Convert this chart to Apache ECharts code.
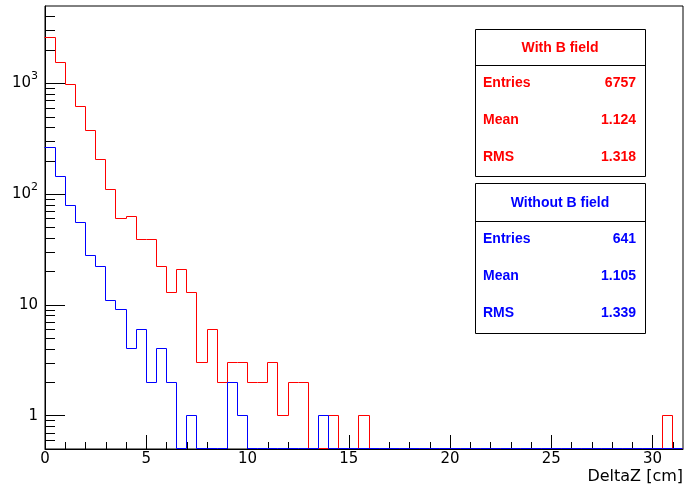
<!DOCTYPE html>
<html lang="en">
<head>
    <meta charset="UTF-8">
    <title>DeltaZ</title>
    <script src="https://cdn.jsdelivr.net/npm/echarts@6/dist/echarts.min.js"></script>
    <style>
        html, body {margin: 0; padding: 0; background: #fff;}
        #main {width: 684px; height: 490px;}
    </style>
</head>
<body>
<div id="main"></div>
<script>
    // histogram: 63 bins of 0.5 cm from 0 to 31.5
    const binWidth = 0.5;
    const xMax = 31.5;
    const redCounts = [
        2600, 1530, 984, 622, 372, 205, 111, 60, 63, 39,
        39, 22, 13, 21, 13, 3, 6, 2, 3, 3,
        2, 2, 3, 1, 2, 2, 0, 0, 1, 0,
        0, 1, 0, 0, 0, 0, 0, 0, 0, 0,
        0, 0, 0, 0, 0, 0, 0, 0, 0, 0,
        0, 0, 0, 0, 0, 0, 0, 0, 0, 0,
        0, 1, 0
    ];
    const blueCounts = [
        264, 143, 79, 55, 28, 22, 11, 9, 4, 6,
        2, 4, 2, 0, 1, 0, 0, 0, 2, 1,
        0, 0, 0, 0, 0, 0, 0, 1, 0, 0,
        0, 0, 0, 0, 0, 0, 0, 0, 0, 0,
        0, 0, 0, 0, 0, 0, 0, 0, 0, 0,
        0, 0, 0, 0, 0, 0, 0, 0, 0, 0,
        0, 0, 0
    ];

    // axis ticks
    const xMajorTicks = [0, 5, 10, 15, 20, 25, 30];
    const xMinorTicks = [0, 1, 2, 3, 4, 5, 6, 7, 8, 9, 10, 11, 12, 13, 14, 15, 16, 17, 18, 19, 20,
        21, 22, 23, 24, 25, 26, 27, 28, 29, 30, 31];
    const yMajorTicks = [1, 10, 100, 1000];
    const yMinorTicks = [0.6, 0.7, 0.8, 0.9, 2, 3, 4, 5, 6, 7, 8, 9, 20, 30, 40, 50, 60, 70, 80, 90,
        200, 300, 400, 500, 600, 700, 800, 900, 2000, 3000, 4000];

    // stat boxes
    const statTitles = ['With B field', 'Without B field'];
    const statColors = ['#ff0000', '#0000ff'];
    const statRowNames = ['Entries', 'Mean', 'RMS'];
    const statEntries = ['6757', '641'];
    const statMeans = ['1.124', '1.105'];
    const statRms = ['1.318', '1.339'];

    const chart = echarts.init(document.getElementById('main'));

    // snap to pixel centres so the 1px outline stays sharp
    function crisp(v) {
        return Math.ceil(v - 0.01) - 0.5;
    }

    function histSeries(name, counts, color, z) {
        return {
            name: name,
            type: 'custom',
            z: z,
            silent: true,
            clip: false,
            xAxisIndex: 0,
            yAxisIndex: 0,
            encode: {x: 0, y: 1},
            data: counts.map(function (c, i) {
                return [i * binWidth, c];
            }),
            renderItem: function (params, api) {
                let i      = params.dataIndex;
                let bottom = params.coordSys.y + params.coordSys.height;
                let py     = function (v) {
                    return crisp(v > 0 ? api.coord([0, v])[1] : bottom);
                };
                let x0     = crisp(api.coord([api.value(0), 1])[0]);
                let x1     = crisp(api.coord([api.value(0) + binWidth, 1])[0]);
                let prev   = i > 0 ? counts[i - 1] : counts[0];
                let y      = py(api.value(1));
                return {
                    type : 'polyline',
                    shape: {points: [[x0, py(prev)], [x0, y], [x1, y]]},
                    style: {stroke: color, fill: null, lineWidth: 1}
                };
            }
        };
    }

    let graphics = [];
    const boxTop = [29, 183];
    const boxHeight = [147, 150];
    const sepOffset = [36, 38];
    const boxLeft = 475, boxWidth = 170;
    const statFont = 'bold 14px "Liberation Sans", Arial, sans-serif';
    statTitles.forEach(function (title, b) {
        let top = boxTop[b];
        let sep = top + sepOffset[b];
        let values = [statEntries[b], statMeans[b], statRms[b]];
        graphics.push({
            type : 'rect', z: 100, silent: true,
            shape: {x: boxLeft + 0.5, y: top + 0.5, width: boxWidth, height: boxHeight[b]},
            style: {fill: '#fff', stroke: '#000', lineWidth: 1}
        });
        graphics.push({
            type : 'line', z: 101, silent: true,
            shape: {x1: boxLeft + 0.5, y1: sep + 0.5, x2: boxLeft + boxWidth + 0.5, y2: sep + 0.5},
            style: {stroke: '#000', lineWidth: 1}
        });
        graphics.push({
            type : 'text', z: 102, silent: true,
            x: boxLeft + boxWidth / 2, y: (top + sep) / 2 + 1,
            style: {text: title, fill: statColors[b], font: statFont, align: 'center', verticalAlign: 'middle'}
        });
        statRowNames.forEach(function (row, k) {
            let ry = sep + 18.5 + k * 36.7;
            graphics.push({
                type : 'text', z: 102, silent: true,
                x: boxLeft + 8, y: ry,
                style: {text: row, fill: statColors[b], font: statFont, align: 'left', verticalAlign: 'middle'}
            });
            graphics.push({
                type : 'text', z: 102, silent: true,
                x: boxLeft + boxWidth - 9, y: ry,
                style: {text: values[k], fill: statColors[b], font: statFont, align: 'right', verticalAlign: 'middle'}
            });
        });
    });

    const axisFont = 'DejaVu Sans';

    let option = {
        animation: false,
        backgroundColor: '#fff',
        grid: {
            left: 45, right: 1, top: 6, bottom: 41,
            show: true, borderColor: '#000', borderWidth: 1,
            containLabel: false, outerBoundsMode: 'none'
        },
        xAxis: [
            {
                type: 'value', min: 0, max: xMax, position: 'bottom',
                axisLine : {show: true, onZero: false, lineStyle: {color: '#000', width: 1}},
                axisTick : {show: true, inside: true, length: 14, customValues: xMajorTicks, lineStyle: {color: '#000'}},
                axisLabel: {customValues: xMajorTicks, color: '#000', fontFamily: axisFont, fontSize: 15, margin: 3},
                splitLine: {show: false},
                name: 'DeltaZ [cm]', nameLocation: 'end', nameGap: 0, nameMoveOverlap: false,
                nameTextStyle: {
                    color: '#000', fontFamily: axisFont, fontSize: 16,
                    align: 'right', verticalAlign: 'top', padding: [20, 0, 0, 0]
                }
            },
            {
                type: 'value', min: 0, max: xMax, position: 'bottom',
                axisLine : {show: false, onZero: false},
                axisTick : {show: true, inside: true, length: 7, customValues: xMinorTicks, lineStyle: {color: '#000'}},
                axisLabel: {show: false},
                splitLine: {show: false}
            }
        ],
        yAxis: [
            {
                type: 'log', logBase: 10, min: 0.5, max: 5000, position: 'left',
                axisLine : {show: true, onZero: false, lineStyle: {color: '#000', width: 1}},
                axisTick : {show: true, inside: true, length: 20, customValues: yMajorTicks, lineStyle: {color: '#000'}},
                axisLabel: {
                    customValues: yMajorTicks, color: '#000', fontFamily: axisFont, fontSize: 15, margin: 7,
                    formatter: function (value) {
                        let p = Math.round(Math.log10(value));
                        if (p < 2) {
                            return String(Math.round(value));
                        }
                        return '{b|10}{s|' + p + '}';
                    },
                    rich: {
                        b: {fontFamily: axisFont, fontSize: 15, lineHeight: 15, verticalAlign: 'bottom', color: '#000'},
                        s: {fontFamily: axisFont, fontSize: 11, lineHeight: 11, verticalAlign: 'bottom', padding: [0, 0, 9, 0], color: '#000'}
                    }
                },
                splitLine: {show: false}
            },
            {
                type: 'log', logBase: 10, min: 0.5, max: 5000, position: 'left',
                axisLine : {show: false, onZero: false},
                axisTick : {show: true, inside: true, length: 10, customValues: yMinorTicks, lineStyle: {color: '#000'}},
                axisLabel: {show: false},
                splitLine: {show: false}
            }
        ],
        series: [
            histSeries('With B field', redCounts, '#ff0000', 3),
            histSeries('Without B field', blueCounts, '#0000ff', 4)
        ],
        graphic: graphics
    };

    chart.setOption(option);
</script>
</body>
</html>
